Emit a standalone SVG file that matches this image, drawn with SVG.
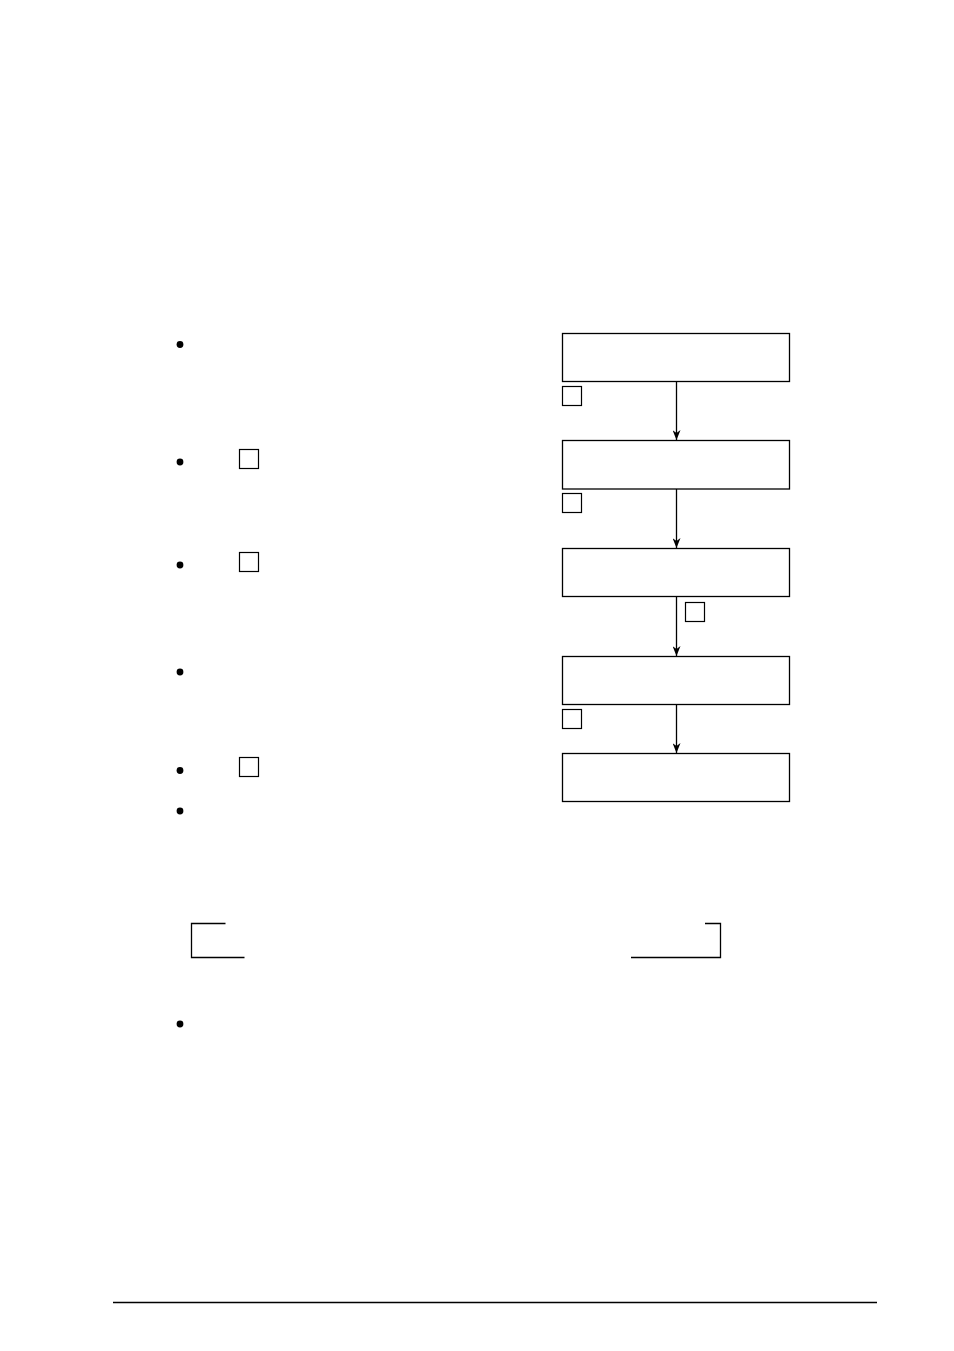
<svg xmlns="http://www.w3.org/2000/svg" width="954" height="1351" viewBox="0 0 954 1351">
<style>
.box{fill:#fff;stroke:#000;stroke-width:1.3}
.sq{fill:none;stroke:#000;stroke-width:1.2}
.ln{fill:none;stroke:#000;stroke-width:1.3}
.dot{fill:#000}
</style>
<defs>
<marker id="ah" markerWidth="10" markerHeight="8" refX="10" refY="4" orient="auto" markerUnits="userSpaceOnUse" viewBox="0 0 10 8">
<path d="M0,0 L3,4 L0,8 L10,4 Z" fill="#000"/>
</marker>
</defs>
<rect width="954" height="1351" fill="#fff"/>
<g id="connectors">
<line class="ln" x1="676.5" y1="381" x2="676.5" y2="440" marker-end="url(#ah)"/>
<line class="ln" x1="676.5" y1="489" x2="676.5" y2="548" marker-end="url(#ah)"/>
<line class="ln" x1="676.5" y1="596" x2="676.5" y2="656" marker-end="url(#ah)"/>
<line class="ln" x1="676.5" y1="704" x2="676.5" y2="753" marker-end="url(#ah)"/>
</g>
<g id="node1"><rect class="box" x="562.5" y="333.5" width="227" height="48"/></g>
<g id="node2"><rect class="box" x="562.5" y="440.5" width="227" height="48.5"/></g>
<g id="node3"><rect class="box" x="562.5" y="548.5" width="227" height="48"/></g>
<g id="node4"><rect class="box" x="562.5" y="656.5" width="227" height="48"/></g>
<g id="node5"><rect class="box" x="562.5" y="753.5" width="227" height="48"/></g>
<g id="labels">
<rect class="sq" x="562.5" y="386.5" width="19" height="19"/>
<rect class="sq" x="562.5" y="493.5" width="19" height="19"/>
<rect class="sq" x="685.5" y="602.5" width="19" height="19"/>
<rect class="sq" x="562.5" y="709.5" width="19" height="19"/>
</g>
<g id="bullets">
<circle class="dot" cx="180" cy="344.5" r="3.4"/>
<circle class="dot" cx="180" cy="462" r="3.4"/>
<circle class="dot" cx="180" cy="565" r="3.4"/>
<circle class="dot" cx="180" cy="672" r="3.4"/>
<circle class="dot" cx="180" cy="770.5" r="3.4"/>
<circle class="dot" cx="180" cy="811" r="3.4"/>
<circle class="dot" cx="180" cy="1024" r="3.4"/>
<rect class="sq" x="239.5" y="449.5" width="19" height="19"/>
<rect class="sq" x="239.5" y="552.5" width="19" height="19"/>
<rect class="sq" x="239.5" y="757.5" width="19" height="19"/>
</g>
<g id="brackets">
<path class="ln" d="M225.5,923.5 H191.5 V957.5 H244.5"/>
<path class="ln" d="M631,957.5 H720.5 V923.5 H705"/>
</g>
<line class="ln" x1="113" y1="1302.5" x2="877" y2="1302.5"/>
</svg>
